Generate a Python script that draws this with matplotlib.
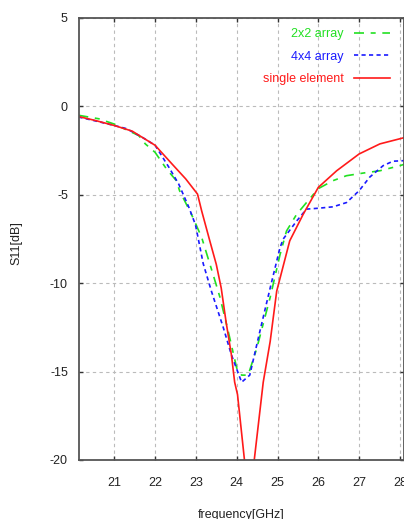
import numpy as np
import matplotlib.pyplot as plt

# ---------- data ----------

freq_single = [20.12, 20.54, 21.0, 21.44, 22.0, 22.42, 22.75, 23.04, 23.14, 23.34, 23.5,
               23.62, 23.74, 23.87, 23.95, 24.02, 24.19, 24.3, 24.43, 24.65, 24.82,
               24.98, 25.3, 25.63, 26.0, 26.45, 27.0, 27.51, 28.1]
s11_single = [-0.57, -0.8, -1.08, -1.4, -2.2, -3.27, -4.1, -4.96, -5.9, -7.6, -8.94,
              -10.27, -12.2, -14.05, -15.6, -16.3, -20.0, -22.0, -20.0, -15.6, -13.3,
              -10.45, -7.6, -6.1, -4.58, -3.64, -2.69, -2.12, -1.77]

freq_2x2 = [20.12, 20.62, 21.0, 21.6, 21.76, 22.0, 22.28, 22.52, 22.6, 22.89, 23.14,
            23.42, 23.59, 23.79, 24.0, 24.12, 24.28, 24.49, 24.82, 25.06, 25.22, 25.47,
            25.71, 26.0, 26.36, 26.69, 27.1, 27.51, 28.0, 28.1]
s11_2x2 = [-0.5, -0.7, -1.0, -1.65, -2.12, -2.6, -3.54, -4.2, -4.77, -6.1, -7.4,
           -9.5, -10.8, -12.7, -14.8, -15.2, -15.2, -13.7, -10.8, -8.4, -7.05, -6.1,
           -5.44, -4.65, -4.2, -3.92, -3.77, -3.64, -3.35, -3.28]

freq_4x4 = [20.12, 20.5, 21.0, 21.3, 21.68, 22.0, 22.34, 22.58, 22.83, 22.99, 23.18,
            23.38, 23.67, 23.87, 24.12, 24.32, 24.57, 24.82, 25.06, 25.14, 25.47, 25.71,
            26.0, 26.36, 26.69, 27.0, 27.26, 27.59, 27.83, 28.1]
s11_4x4 = [-0.6, -0.8, -1.08, -1.26, -1.74, -2.2, -3.45, -4.4, -5.72, -6.7, -8.9,
           -10.45, -12.5, -14.05, -15.6, -15.2, -12.7, -10.27, -8.0, -7.5, -6.48, -5.81,
           -5.76, -5.68, -5.44, -4.77, -4.0, -3.35, -3.1, -3.07]

x_ticks = [21, 22, 23, 24, 25, 26, 27, 28]
y_ticks = [-20, -15, -10, -5, 0, 5]

# ---------- plot ----------

plt.rcParams['font.family'] = ['Liberation Sans', 'DejaVu Sans']
plt.rcParams['axes.unicode_minus'] = False

fig = plt.figure(figsize=(4.04, 5.19), dpi=100)
ax = fig.add_axes([79 / 404, 59 / 519, 1 - 79 / 404, 442 / 519])

ax.plot(freq_2x2, s11_2x2, color='#22e022', lw=1.2, dashes=(6, 4, 3, 4),
        label='2x2 array')
ax.plot(freq_4x4, s11_4x4, color='#1a1aff', lw=1.2, dashes=(2.5, 2),
        label='4x4 array')
ax.plot(freq_single, s11_single, color='#ff1a1a', lw=1.2, label='single element')

ax.set_xlim(20.135, 28.1)
ax.set_ylim(-20, 5)
ax.set_xticks(x_ticks)
ax.set_yticks(y_ticks)
ax.grid(True, color='#bbbbbb', linestyle=(0, (3, 3)), lw=0.8)

for sp in ax.spines.values():
    sp.set_color('#555555')
    sp.set_linewidth(1.3)

ax.tick_params(direction='in', length=3, width=1, color='#333333',
               top=True, right=True, labelsize=9)
ax.tick_params(axis='x', pad=12)
ax.tick_params(axis='y', pad=8)
for lab in ax.get_xticklabels() + ax.get_yticklabels():
    lab.set_color('#222222')

ax.set_xlabel('frequency[GHz]', fontsize=9, color='#222222')
ax.xaxis.set_label_coords(0.498, -0.11)
ax.set_ylabel('S11[dB]', fontsize=9, color='#222222')
ax.yaxis.set_label_coords(-0.175, 0.49)

leg = ax.legend(loc='upper right', bbox_to_anchor=(0.992, 1.003), frameon=False,
                markerfirst=False, labelcolor='linecolor', fontsize=9,
                handlelength=2.9, handletextpad=0.8, labelspacing=0.85)

fig.savefig('out.png', dpi=100)
